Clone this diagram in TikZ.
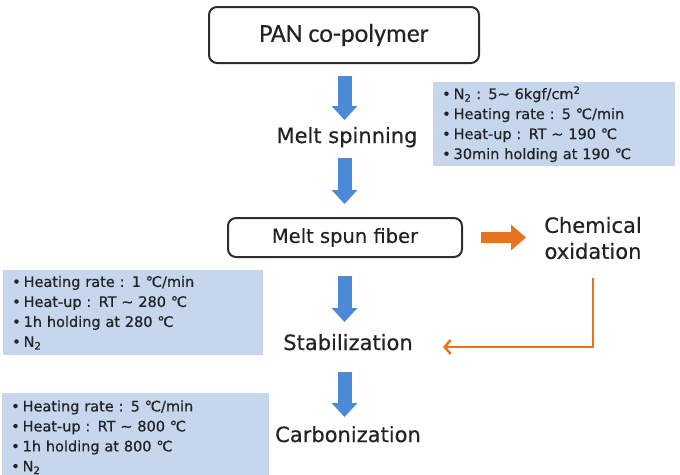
\documentclass[tikz,border=0pt]{standalone}
\usepackage{fontspec}
\setmainfont{DejaVu Sans}[FakeBold=0.5]
\newfontfamily\calfont{Carlito}[FakeBold=0.3]
\usetikzlibrary{arrows.meta,calc}
\definecolor{boxblue}{RGB}{197,214,237}
\definecolor{arrblue}{RGB}{76,137,214}
\definecolor{orangeA}{RGB}{230,115,30}
\definecolor{txt}{RGB}{35,35,35}
\definecolor{edgegray}{RGB}{45,45,45}
\newcommand{\tld}{\char"7E\relax}
\newcommand{\bul}{\textbullet\hspace{0.2em}}
\begin{document}
\begin{tikzpicture}[x=1pt,y=-1pt,
  procbox/.style={draw=edgegray, line width=2pt, rounded corners=8pt, inner sep=0pt, text=txt},
  steplabel/.style={inner sep=0pt, text=txt, font=\fontsize{21}{26}\selectfont},
  infobox/.style={fill=boxblue, anchor=north west, inner xsep=9pt, inner ysep=0pt, align=left, text=txt, font=\fontsize{14.5}{20}\selectfont},
  bluearr/.style={draw=arrblue, line width=14pt, -{Triangle[width=25pt,length=14pt]}},
  orangearr/.style={draw=orangeA, line width=11pt, -{Triangle[width=25pt,length=15pt]}},
  orangeline/.style={draw=orangeA, line width=2.5pt, -{Straight Barb[length=6pt,width=14pt]}}
]
\useasboundingbox (0,0) rectangle (680,474);
\clip (0,0) rectangle (680,474);

% process boxes and labels
\node[procbox, minimum width=270pt, minimum height=56pt, font=\calfont\fontsize{26}{30}\selectfont] (pan) at (344,35) {PAN co-polymer};
\node[steplabel, anchor=base] (melt) at (347,143) {Melt spinning};
\node[procbox, minimum width=234pt, minimum height=39pt, font=\fontsize{19.5}{23}\selectfont] (fiber) at (345,237.5) {Melt spun fiber};
\node[steplabel, align=center] (chem) at (593,238) {Chemical\\oxidation};
\node[steplabel, anchor=base] (stab) at (348,350) {Stabilization};
\node[steplabel, anchor=base] (carb) at (348,442) {Carbonization};

% parameter boxes
\node[infobox, text width=224pt, minimum height=84pt] (spinpar) at (433,82)
  {\bul N\textsubscript{2} : 5\tld{} 6kgf/cm\textsuperscript{2}\\
   \bul Heating rate : 5 ℃/min\\
   \bul Heat-up : RT \tld{} 190 ℃\\
   \bul 30min holding at 190 ℃};
\node[infobox, text width=242pt, minimum height=85pt] (stabpar) at (3,270)
  {\bul Heating rate : 1 ℃/min\\
   \bul Heat-up : RT \tld{} 280 ℃\\
   \bul 1h holding at 280 ℃\\
   \bul N\textsubscript{2}};
\node[infobox, text width=249pt, minimum height=88pt] (carbpar) at (2,393)
  {\bul Heating rate : 5 ℃/min\\
   \bul Heat-up : RT \tld{} 800 ℃\\
   \bul 1h holding at 800 ℃\\
   \bul N\textsubscript{2}};

% blue flow arrows
\draw[bluearr] ($(pan.south)+(0.5,12)$) -- ($(pan.south |- melt.base)+(0.5,-23)$);
\draw[bluearr] ($(pan.south |- melt.base)+(0.5,15)$) -- ($(pan.south |- fiber.north)+(0.5,-13)$);
\draw[bluearr] ($(pan.south |- fiber.south)+(0.5,18)$) -- ($(pan.south |- stab.base)+(0.5,-28)$);
\draw[bluearr] ($(pan.south |- stab.base)+(0.5,22)$) -- ($(pan.south |- carb.base)+(0.5,-25)$);

% orange branch
\draw[orangearr] ($(fiber.east)+(18,0)$) -- ($(fiber.east)+(63,0)$);
\coordinate (oxend) at (443,347);
\draw[orangeline] ($(chem.south)+(0,19)$) |- (oxend);
\end{tikzpicture}
\end{document}
